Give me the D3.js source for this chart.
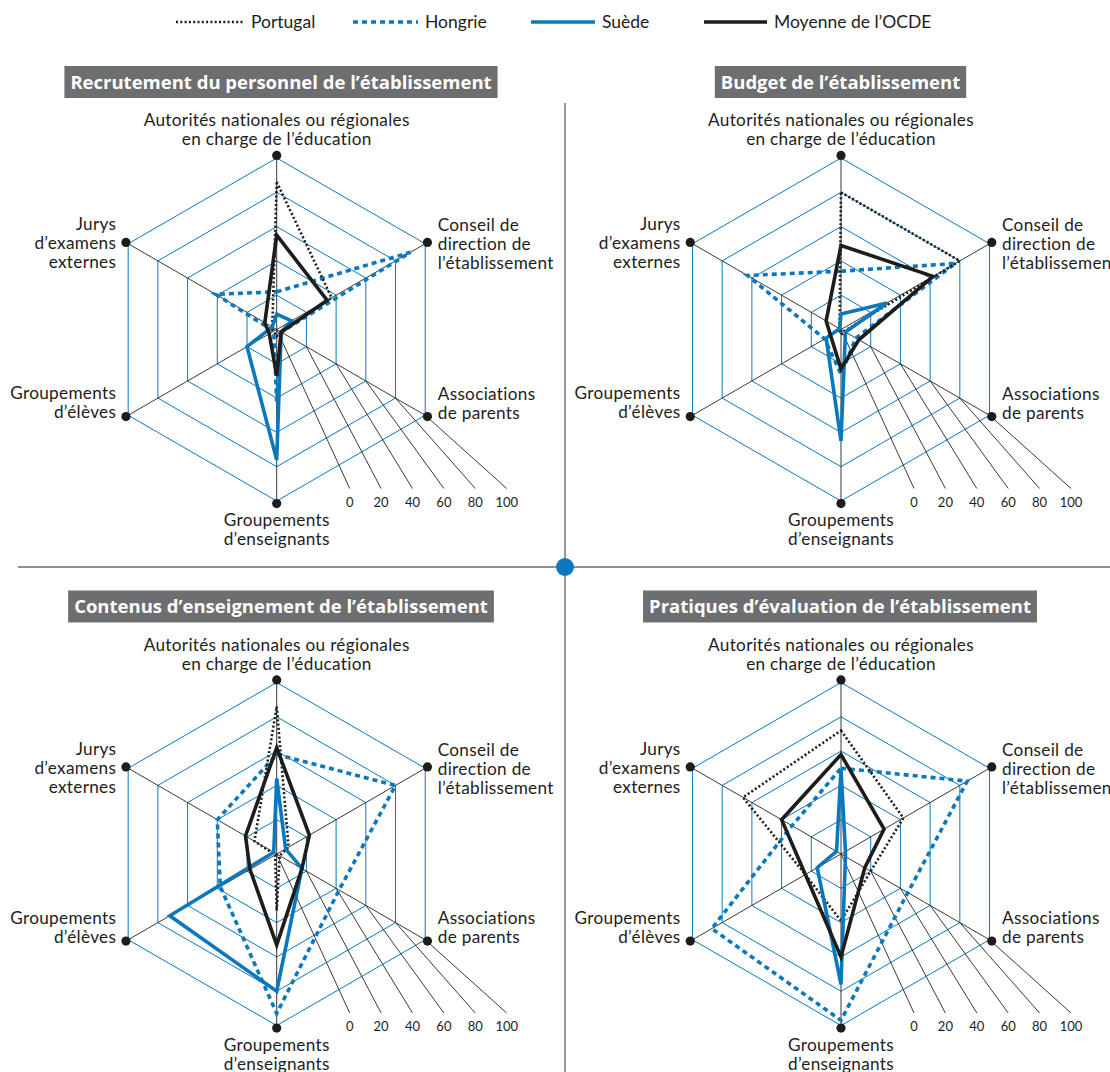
<!DOCTYPE html>
<html lang="fr">
<head>
  <meta charset="UTF-8" />
  <title>Responsabilités des établissements - graphiques radar</title>
  <script src="https://cdn.jsdelivr.net/npm/d3@7"></script>
  <style>
    body { margin: 0; background: #fff; }
    svg { display: block; font-family: Lato, 'Open Sans', sans-serif; }
  </style>
</head>
<body>
  <svg width="1110" height="1072"></svg>

  <script>
    // séries et axes
    const series = ['Portugal', 'Hongrie', 'Suède', 'Moyenne de l’OCDE'];
    const axisLabels = [
      ['Autorités nationales ou régionales', 'en charge de l’éducation'],
      ['Conseil de', 'direction de', 'l’établissement'],
      ['Associations', 'de parents'],
      ['Groupements', 'd’enseignants'],
      ['Groupements', 'd’élèves'],
      ['Jurys', 'd’examens', 'externes'],
    ];
    const ticks = [0, 20, 40, 60, 80, 100];
    const titles = [
      'Recrutement du personnel de l’établissement',
      'Budget de l’établissement',
      'Contenus d’enseignement de l’établissement',
      'Pratiques d’évaluation de l’établissement',
    ];

    // valeurs (%) par axe, une ligne par série : Portugal, Hongrie, Suède, OCDE
    const recrutement = [
      [86, 37, 3, 4, 2, 3],
      [22, 90, 3, 42, 2, 41],
      [9, 10, 3, 76, 20, 3],
      [55, 34, 3, 27, 5, 8],
    ];
    const budget = [
      [80, 80, 2, 3, 1, 1],
      [34, 77, 10, 26, 11, 63],
      [9, 31, 3, 65, 10, 1],
      [49, 62, 12, 23, 7, 10],
    ];
    const contenus = [
      [86, 8, 2, 33, 1, 15],
      [58, 80, 42, 93, 38, 40],
      [44, 6, 17, 80, 72, 2],
      [62, 22, 17, 53, 18, 21],
    ];
    const evaluation = [
      [72, 42, 20, 39, 24, 66],
      [50, 85, 45, 97, 87, 33],
      [49, 3, 3, 76, 16, 3],
      [58, 29, 16, 60, 24, 40],
    ];

    const blue = '#0b78bd';
    const ink = '#1d1d1b';
    const styles = [
      { color: ink, width: 2.6, dash: '2,2.3' },
      { color: blue, width: 3.6, dash: '5,4' },
      { color: blue, width: 3.6, dash: null },
      { color: ink, width: 3.6, dash: null },
    ];

    const svg = d3.select('svg');
    const R = 171.5;
    const r = d3.scaleLinear().domain([0, 100]).range([0, R]);
    const ang = (i) => (i * Math.PI) / 3;
    const pt = (i, v) => [r(v) * Math.sin(ang(i)), -r(v) * Math.cos(ang(i))];
    // position des étiquettes de l'échelle (0..100) en bas à droite
    const tickX = d3.scaleLinear().domain([0, 100]).range([73, 230]);

    // séparateurs
    svg.append('line').attr('x1', 565).attr('x2', 565).attr('y1', 103).attr('y2', 1072)
      .attr('stroke', '#333').attr('stroke-width', 1);
    svg.append('line').attr('x1', 18).attr('x2', 1110).attr('y1', 567).attr('y2', 567)
      .attr('stroke', '#222').attr('stroke-width', 1);
    svg.append('circle').attr('cx', 565).attr('cy', 567).attr('r', 9).attr('fill', blue);

    // légende
    const legendX = [[176, 244], [353, 418], [531, 595], [704, 767]];
    const legend = svg.append('g').attr('class', 'legend');
    series.forEach((s, i) => {
      legend.append('line')
        .attr('x1', legendX[i][0]).attr('x2', legendX[i][1])
        .attr('y1', 22).attr('y2', 22)
        .attr('stroke', styles[i].color)
        .attr('stroke-width', i === 0 ? 2.6 : 3.6)
        .attr('stroke-dasharray', styles[i].dash);
      legend.append('text')
        .attr('x', legendX[i][1] + 7).attr('y', 28)
        .style('font-size', '17.5px').attr('fill', ink)
        .text(s);
    });

    const panels = [
      { data: recrutement, cx: 276.7, cy: 329.5, tx: 281 },
      { data: budget, cx: 841, cy: 329.5, tx: 840.5 },
      { data: contenus, cx: 276.7, cy: 854, tx: 281 },
      { data: evaluation, cx: 841, cy: 854, tx: 840 },
    ];

    panels.forEach((p, k) => drawPanel(p, titles[k]));

    function drawPanel(p, title) {
      // titre dans un bandeau gris
      const tg = svg.append('g');
      const tt = tg.append('text')
        .attr('x', p.tx).attr('y', p.cy - 241)
        .attr('text-anchor', 'middle')
        .style('font-family', "'Open Sans', Lato, sans-serif")
        .style('font-size', '18.5px').style('font-weight', 'bold')
        .attr('fill', '#fff')
        .text(title);
      const bb = tt.node().getBBox();
      tg.insert('rect', 'text')
        .attr('x', bb.x - 6).attr('y', p.cy - 263.5)
        .attr('width', bb.width + 12).attr('height', 32)
        .attr('fill', '#6d6e70');

      const g = svg.append('g').attr('transform', `translate(${p.cx},${p.cy})`);

      // grille hexagonale
      const hex = d3.lineRadial()
        .angle((d, i) => ang(i))
        .radius((d) => r(d))
        .curve(d3.curveLinearClosed);
      g.selectAll('path.grid')
        .data(ticks.slice(1))
        .enter()
        .append('path')
        .attr('class', 'grid')
        .attr('d', (v) => hex(d3.range(6).map(() => v)))
        .attr('fill', 'none')
        .attr('stroke', blue)
        .attr('stroke-width', 1);

      // axes
      g.selectAll('line.axis')
        .data(d3.range(6))
        .enter()
        .append('line')
        .attr('class', 'axis')
        .attr('x1', 0).attr('y1', 0)
        .attr('x2', (i) => pt(i, 100)[0])
        .attr('y2', (i) => pt(i, 100)[1])
        .attr('stroke', '#222')
        .attr('stroke-width', 0.9);

      // échelle en éventail
      g.selectAll('line.scale')
        .data(ticks)
        .enter()
        .append('line')
        .attr('class', 'scale')
        .attr('x1', (v) => pt(2, v)[0])
        .attr('y1', (v) => pt(2, v)[1])
        .attr('x2', (v) => tickX(v))
        .attr('y2', 159)
        .attr('stroke', '#222')
        .attr('stroke-width', 0.9);
      g.selectAll('text.tick')
        .data(ticks)
        .enter()
        .append('text')
        .attr('class', 'tick')
        .attr('x', (v) => tickX(v))
        .attr('y', 177)
        .attr('text-anchor', 'middle')
        .style('font-size', '13px')
        .attr('fill', ink)
        .text((v) => v);

      // séries
      const line = d3.lineRadial()
        .angle((d, i) => ang(i))
        .radius((d) => r(d))
        .curve(d3.curveLinearClosed);
      const order = [1, 0, 2, 3];
      order.forEach((s) => {
        g.append('path')
          .attr('d', line(p.data[s]))
          .attr('fill', 'none')
          .attr('stroke', styles[s].color)
          .attr('stroke-width', styles[s].width)
          .attr('stroke-dasharray', styles[s].dash)
          .attr('stroke-linejoin', 'miter');
      });

      // points aux extrémités des axes
      g.selectAll('circle.end')
        .data(d3.range(6))
        .enter()
        .append('circle')
        .attr('class', 'end')
        .attr('cx', (i) => pt(i, 101.5)[0])
        .attr('cy', (i) => pt(i, 101.5)[1])
        .attr('r', 4.6)
        .attr('fill', ink);

      // libellés des axes
      const lab = [
        { x: 0, y: -203.5, anchor: 'middle' },
        { x: 161, y: -98.5, anchor: 'start' },
        { x: 161, y: 70, anchor: 'start' },
        { x: 0, y: 196.5, anchor: 'middle' },
        { x: -160.5, y: 69.5, anchor: 'end' },
        { x: -160.5, y: -99.5, anchor: 'end' },
      ];
      axisLabels.forEach((lines, i) => {
        const t = g.append('text')
          .attr('text-anchor', lab[i].anchor)
          .style('font-size', '17.2px')
          .style('letter-spacing', '0.3px')
          .attr('fill', ink);
        lines.forEach((s, j) => {
          t.append('tspan')
            .attr('x', lab[i].x)
            .attr('y', lab[i].y + j * 19)
            .text(s);
        });
      });
    }
  </script>
</body>
</html>
